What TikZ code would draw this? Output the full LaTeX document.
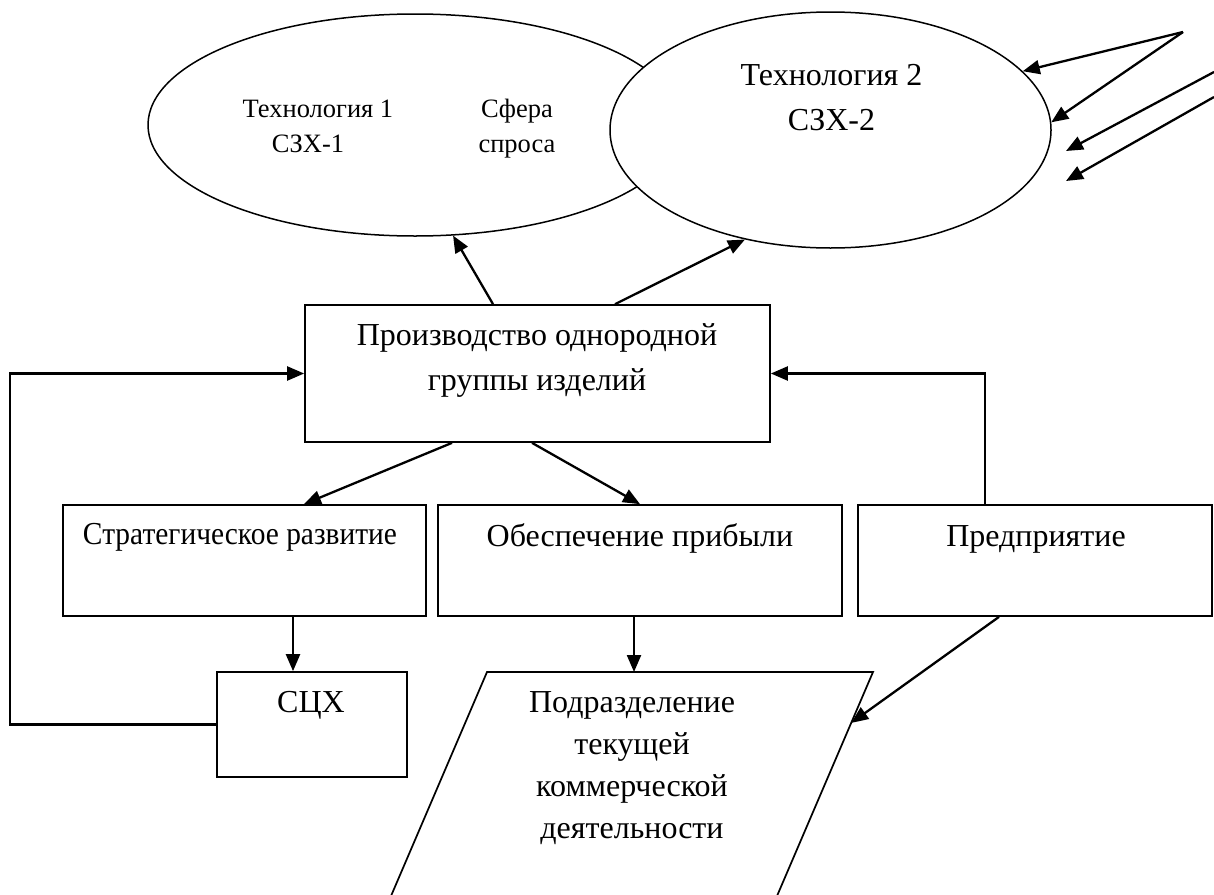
\documentclass[tikz,border=0pt]{standalone}
\usepackage{fontspec}
\setmainfont{Liberation Serif}
\usetikzlibrary{shapes.geometric,arrows.meta,calc}
\begin{document}
\begin{tikzpicture}[x=1pt,y=-1pt,
  box/.style={draw,rectangle,line width=1.7pt,inner sep=0pt},
  oval/.style={draw,ellipse,line width=1.5pt,inner sep=0pt},
  conn/.style={line width=2.3pt,-{Triangle[length=17pt,width=14pt]}},
  txt/.style={anchor=base,inner sep=0pt,font=\fontsize{32}{45}\selectfont},
  ptxt/.style={anchor=base,inner sep=0pt,font=\fontsize{32}{42}\selectfont},
  stxt/.style={anchor=base,inner sep=0pt,font=\fontsize{26.5}{35}\selectfont}]
\useasboundingbox (0,0) rectangle (1214,894);
\clip (0,0) rectangle (1214,894);

% ellipses
\node[oval,minimum width=534pt,minimum height=222pt] (E1) at (415,125) {};
\node[oval,fill=white,minimum width=441pt,minimum height=236pt] (E2) at (830.5,130) {};
\node[stxt] (t1a) at (318,117) {Технология 1};
\node[stxt] (t1b) at (308,152) {СЗХ-1};
\node[stxt] (sf) at (517,117) {\begin{tabular}[t]{@{}c@{}}Сфера\\спроса\end{tabular}};
\node[txt] (t2) at (831.5,85) {\begin{tabular}[t]{@{}c@{}}Технология 2\\СЗХ-2\end{tabular}};

% boxes
\node[box,minimum width=465pt,minimum height=137pt] (P) at (537.5,373.5) {};
\node[txt] (Pt) at (537,345) {\begin{tabular}[t]{@{}c@{}}Производство однородной\\группы изделий\end{tabular}};
\node[box,minimum width=363pt,minimum height=111pt] (S) at (244.5,560.5) {};
\node[txt,xscale=0.92] (St) at (240,544) {Стратегическое развитие};
\node[box,minimum width=404pt,minimum height=111pt] (O) at (640,560.5) {};
\node[txt] (Ot) at (640,546) {Обеспечение прибыли};
\node[box,minimum width=354pt,minimum height=111pt] (E) at (1035,560.5) {};
\node[txt] (Et) at (1036,546) {Предприятие};
\node[box,minimum width=190pt,minimum height=105pt] (C) at (312,724.5) {};
\node[txt] (Ct) at (311,712) {СЦХ};

% parallelogram
\coordinate (pgTL) at (487,672);
\coordinate (pgTR) at (873,672);
\coordinate (pgBR) at (771,910);
\coordinate (pgBL) at (385,910);
\draw[line width=1.7pt] (pgBL) -- (pgTL) -- (pgTR) -- (pgBR);
\node[ptxt] (Dt) at (632,712) {\begin{tabular}[t]{@{}c@{}}Подразделение\\текущей\\коммерческой\\деятельности\end{tabular}};
\coordinate (pgR) at ($(pgTR)!0.214!(pgBR)$);

% connectors from P to ellipses
\draw[conn] ([xshift=-44.5pt]P.north) -- (E1.-71.7);
\draw[conn] ([xshift=77.5pt]P.north) -- (E2.232.5);

% P to S and O
\draw[conn] ([xshift=-85.5pt]P.south) -- ([xshift=59.5pt]S.north);
\draw[conn] ([xshift=-5.5pt]P.south) -- (O.north);

% S to C
\coordinate (s1) at ([xshift=48.5pt]S.south);
\draw[conn] (s1) -- (s1 |- C.north);
% O to parallelogram
\coordinate (o1) at ([xshift=-6pt]O.south);
\draw[conn] (o1) -- (o1 |- pgTL);
% E to parallelogram
\draw[conn] ([xshift=-36pt]E.south) -- (pgR);

% feedback loops
\coordinate (lx) at (10,724.5);
\draw[conn] (C.west) -- (lx) |- (P.west);
\coordinate (r1) at ([xshift=-50pt]E.north);
\draw[conn] (r1) |- (P.east);

% top-right arrows
\coordinate (apex) at (1183,32);
\draw[conn] (apex) -- (E2.17.3);
\draw[conn] (apex) -- (E2.2.6);
\coordinate (f1s) at (1214,72);
\coordinate (f1e) at (1066,151);
\coordinate (f2s) at (1214,97);
\coordinate (f2e) at (1066,181);
\draw[conn] (f1s) -- (f1e);
\draw[conn] (f2s) -- (f2e);
\end{tikzpicture}
\end{document}
